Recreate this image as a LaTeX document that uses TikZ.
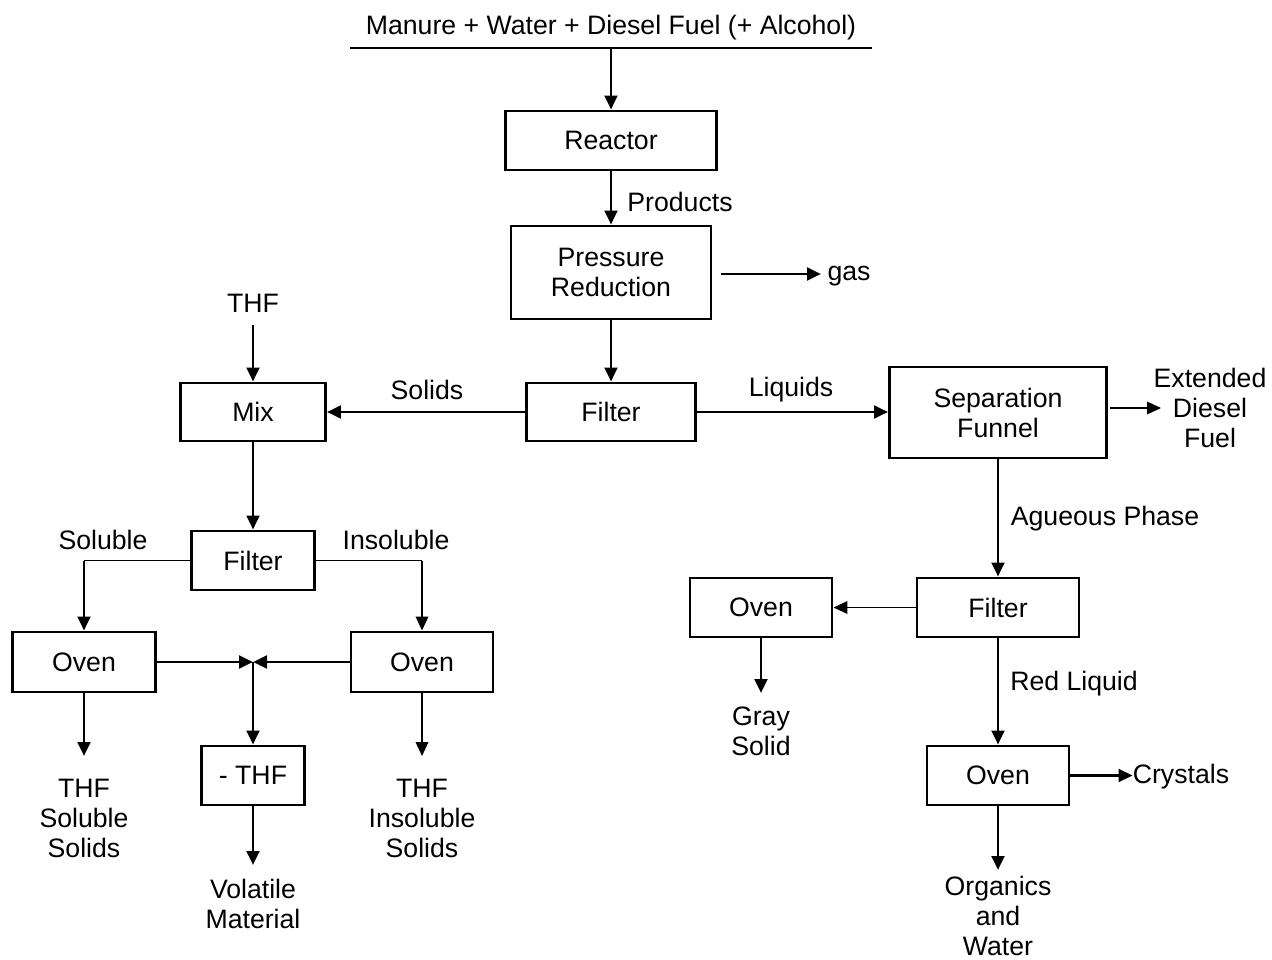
\documentclass[tikz,border=0pt]{standalone}
\usepackage{fontspec}
\setmainfont{Liberation Sans}
\usetikzlibrary{arrows.meta}
\newcommand{\fsz}{\fontsize{20}{22.5}\selectfont}
\begin{document}
\begin{tikzpicture}[x=0.75pt,y=-0.75pt,
  font=\fsz,
  box/.style={draw,line width=2.2pt,inner sep=0pt,align=center},
  bx/.style 2 args={minimum width=#1*0.75pt,minimum height=#2*0.75pt},
  txt/.style={inner sep=0pt,align=center},
  thk/.style={line width=2.2pt},
  thn/.style={line width=1pt},
  arr/.style={-{Triangle[length=10.5pt,width=9.5pt]}}]
\useasboundingbox (0,0) rectangle (1272,960);

% boxes
\node[box,bx={211}{59}] (reactor) at (611,140.5) {Reactor};
\node[box,bx={200}{93}] (press) at (611,272.5) {Pressure\\Reduction};
\node[box,bx={169}{58}] (filt) at (611,412) {Filter};
\node[box,bx={145}{58}] (mix) at (253,412) {Mix};
\node[box,bx={217}{91}] (sep) at (998,412.5) {Separation\\Funnel};
\node[box,bx={162}{59}] (filt2) at (998,607.5) {Filter};
\node[box,bx={142}{59}] (oven3) at (761,607.5) {Oven};
\node[box,bx={142}{59}] (oven4) at (998,775.5) {Oven};
\node[box,bx={123}{59}] (filt3) at (253,560.5) {Filter};
\node[box,bx={143}{60}] (oven1) at (84,662) {Oven};
\node[box,bx={142}{60}] (oven2) at (422,662) {Oven};
\node[box,bx={103}{59}] (mthf) at (253,775.5) {- THF};

% texts
\node[txt] (feed) at (611,28) {Manure + Water + Diesel Fuel (+ Alcohol)};
\node[txt] (prod) at (680,202) {Products};
\node[txt] (gas) at (849,276) {gas};
\node[txt] (thf) at (253,303) {THF};
\node[txt] (solids) at (427,390) {Solids};
\node[txt] (liq) at (791,390) {Liquids};
\node[txt] (ext) at (1210,408) {Extended\\Diesel\\Fuel};
\node[txt] (aq) at (1105,519) {Agueous Phase};
\node[txt] (red) at (1074,684) {Red Liquid};
\node[txt] (gray) at (761,731) {Gray\\Solid};
\node[txt] (crys) at (1181,777) {Crystals};
\node[txt] (org) at (998,916) {Organics\\and\\Water};
\node[txt] (sol) at (103,540) {Soluble};
\node[txt] (insol) at (396,540) {Insoluble};
\node[txt] (tss) at (84,818) {THF\\Soluble\\Solids};
\node[txt] (tis) at (422,818) {THF\\Insoluble\\Solids};
\node[txt] (vol) at (253,904) {Volatile\\Material};

% coordinates
\coordinate (ul1) at (350,48);
\coordinate (ul2) at (872,48);
\coordinate (ulm) at (611,48);
\coordinate (g1) at (721,274);
\coordinate (g2) at (821,274);
\coordinate (t1) at (253,325);
\coordinate (e1) at (1110,408);
\coordinate (e2) at (1161,408);
\coordinate (gs) at (761,693);
\coordinate (ow) at (998,870);
\coordinate (sl) at (84,560.5);
\coordinate (il) at (422,560.5);
\coordinate (j) at (253,662);
\coordinate (ts) at (84,756);
\coordinate (ti) at (422,756);
\coordinate (vm) at (253,865);

% connectors
\draw[thk] (ul1) -- (ul2);
\draw[thk,arr] (ulm) -- (ulm |- reactor.north);
\draw[thk,arr] (reactor.south) -- (press.north);
\draw[thk,arr] (g1) -- (g2);
\draw[thk,arr] (press.south) -- (filt.north);
\draw[thk,arr] (filt.west) -- (mix.east);
\draw[thk,arr] (t1) -- (mix.north);
\draw[thk,arr] (filt.east) -- (filt.east -| sep.west);
\draw[thn,arr] (e1) -- (e2);
\draw[thk,arr] (sep.south) -- (filt2.north);
\draw[thn,arr] (filt2.west) -- (oven3.east);
\draw[thk,arr] (oven3.south) -- (gs);
\draw[thk,arr] (filt2.south) -- (oven4.north);
\draw[thk,arr] (oven4.east) -- (oven4.east -| crys.west);
\draw[thk,arr] (oven4.south) -- (ow);

\draw[thk,arr] (mix.south) -- (filt3.north);
\draw[thn] (filt3.west) -- (sl);
\draw[thk,arr] (sl) -- (oven1.north);
\draw[thn] (filt3.east) -- (il);
\draw[thn,arr] (il) -- (oven2.north);
\draw[thk,arr] (oven1.east) -- (j);
\draw[thk,arr] (oven2.west) -- (j);
\draw[thk,arr] (j) -- (mthf.north);
\draw[thk,arr] (mthf.south) -- (vm);
\draw[thk,arr] (oven1.south) -- (ts);
\draw[thn,arr] (oven2.south) -- (ti);
\end{tikzpicture}
\end{document}
